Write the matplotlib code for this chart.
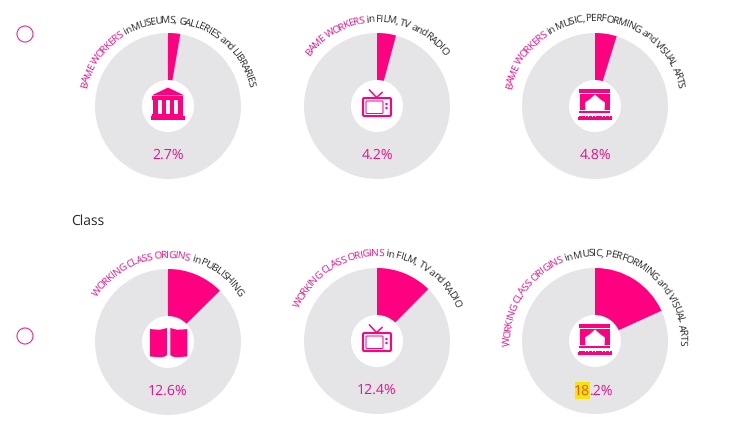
import matplotlib
matplotlib.use("Agg")
import matplotlib.pyplot as plt
import matplotlib.font_manager as fm
from matplotlib.patches import Wedge, Circle, Polygon, Rectangle, FancyBboxPatch
from matplotlib.ft2font import LoadFlags
import math

FONT = "Open Sans"
plt.rcParams["font.family"] = [FONT, "DejaVu Sans"]
plt.rcParams["text.hinting"] = "no_hinting"

# ---- data ----
values = [2.7, 4.2, 4.8, 12.6, 12.4, 18.2]
value_labels = ["2.7%", "4.2%", "4.8%", "12.6%", "12.4%", "18.2%"]
lead_texts = ["BAME WORKERS", "BAME WORKERS", "BAME WORKERS",
              "WORKING CLASS ORIGINS", "WORKING CLASS ORIGINS", "WORKING CLASS ORIGINS"]
sector_texts = [" in MUSEUMS, GALLERIES and LIBRARIES", " in FILM, TV and RADIO",
                " in MUSIC, PERFORMING and VISUAL ARTS", " in PUBLISHING",
                " in FILM, TV and RADIO", " in MUSIC, PERFORMING and VISUAL ARTS"]
icons = ["museum", "tv", "stage", "book", "tv", "stage"]
section_title = "Class"

# ---- layout ----
centers_x = [168, 377, 595, 168, 377, 595]
centers_y = [106, 106, 106, 342, 341, 341]
arc_radius = [83, 84, 85, 84, 85, 85]
arc_half_span = [77, 53, 78, 57, 67, 93]
R_OUT, R_IN = 73, 26
PINK, PINK_TXT, GREY, DARK = "#ff0080", "#e5128a", "#e5e5e7", "#262626"

fig = plt.figure(figsize=(7.48, 4.40), dpi=100)
ax = fig.add_axes([0, 0, 1, 1])
ax.set_xlim(0, 748)
ax.set_ylim(440, 0)
ax.axis("off")

font = fm.get_font(fm.findfont(fm.FontProperties(family=FONT)))
ARC_PT = 7.4
font.set_size(ARC_PT, 100)


def advance(ch):
    g = font.load_char(ord(ch), flags=LoadFlags.NO_HINTING)
    return g.linearHoriAdvance / 65536


def arc_text(cx, cy, r, half, lead, rest):
    s = lead + rest
    adv = [advance(c) for c in s]
    total = sum(adv)
    pos = 0
    for i, c in enumerate(s):
        mid = pos + adv[i] / 2
        pos += adv[i]
        if c == " ":
            continue
        a = math.radians(-half + 2 * half * mid / total)
        ax.text(cx + r * math.sin(a), cy - r * math.cos(a), c,
                rotation=-math.degrees(a), rotation_mode="anchor",
                ha="center", va="baseline", fontsize=ARC_PT,
                color=PINK_TXT if i < len(lead) else DARK)


def poly(cx, cy, pts, color=PINK):
    ax.add_patch(Polygon([(cx + x, cy + y) for x, y in pts], closed=True,
                         fc=color, ec="none", zorder=5))


def rect(cx, cy, x0, y0, x1, y1, color=PINK):
    poly(cx, cy, [(x0, y0), (x1, y0), (x1, y1), (x0, y1)], color)


def museum(cx, cy):
    poly(cx, cy, [(0, -18.5), (15.5, -11), (15.5, -10.5), (-15.5, -10.5), (-15.5, -11)])
    rect(cx, cy, -15.5, -10, 15.5, -5.5)
    for x0, x1 in [(-15, -10.3), (-6, -1.8), (1.8, 6), (10.3, 15)]:
        rect(cx, cy, x0, -5.5, x1, 8)
    rect(cx, cy, -15.5, 8, 15.5, 10)
    rect(cx, cy, -17, 10, 17, 14)


def tv(cx, cy):
    ax.add_patch(FancyBboxPatch((cx - 14, cy - 8), 28, 18,
                                boxstyle="round,pad=0,rounding_size=1.5",
                                fc="white", ec=PINK, lw=1.5, zorder=5))
    ax.add_patch(FancyBboxPatch((cx - 11, cy - 5), 17, 12.5,
                                boxstyle="round,pad=0,rounding_size=1",
                                fc="white", ec=PINK, lw=0.7, zorder=5))
    ax.plot([cx - 7.5, cx - 0.5, cx + 5], [cy - 16, cy - 8.5, cy - 13.5],
            color=PINK, lw=1.1, zorder=5)
    for dy in (-2, 2):
        ax.add_patch(Circle((cx + 9.5, cy + dy), 1.2, fc=PINK, ec="none", zorder=6))


def stage(cx, cy):
    rect(cx, cy, -16, -17, 15, -13)
    rect(cx, cy, -15.3, -11.5, 15.3, 4.5)
    poly(cx, cy, [(0, -11.5), (-5, -7), (-10, -3.5), (-9.5, 4.5),
                  (9.5, 4.5), (10, -3.5), (5, -7)], "white")
    rect(cx, cy, -16, 5.5, 15, 7.5)
    rect(cx, cy, -17, 11, 17, 14)
    for k in range(10):
        x = -16 + k * 3.4
        rect(cx, cy, x, 9.7, x + 2.6, 11)


def book(cx, cy):
    left = [(-18, -13), (-13, -12.5), (-8, -12.3), (-3, -13.5), (-1, -14),
            (-1, 13), (-3, 14.5), (-7, 15.3), (-12, 15), (-18, 14.5)]
    poly(cx, cy, left)
    poly(cx, cy, [(-x + 1.3, y) for x, y in left])


ICON = {"museum": museum, "tv": tv, "stage": stage, "book": book}

for i, v in enumerate(values):
    cx, cy = centers_x[i], centers_y[i]
    ax.add_patch(Wedge((cx, cy), R_OUT, 0, 360, width=R_OUT - R_IN, fc=GREY, ec="none"))
    ax.add_patch(Wedge((cx, cy), R_OUT, -90, -90 + 3.6 * v, width=R_OUT - R_IN,
                       fc=PINK, ec="none", zorder=3))
    ICON[icons[i]](cx, cy)
    arc_text(cx, cy, arc_radius[i], arc_half_span[i], lead_texts[i], sector_texts[i])
    if i < 5:
        ax.text(cx, cy + 49, value_labels[i], ha="center", va="center",
                fontsize=10.2, color=PINK_TXT, zorder=6)

# last label: highlighted first two digits
cx, cy = centers_x[5], centers_y[5]
ax.add_patch(Rectangle((575, 382), 15, 17, fc="#f7e600", ec="none", zorder=5))
ax.text(590, cy + 50, value_labels[5][:2], ha="right", va="center",
        fontsize=10.2, color="#f04e23", zorder=6)
ax.text(590, cy + 50, value_labels[5][2:], ha="left", va="center",
        fontsize=10.2, color=PINK_TXT, zorder=6)

ax.text(71, 221, section_title, ha="left", va="center", fontsize=10, color=DARK)

for y in (34, 336):
    ax.add_patch(Circle((25, y), 8, fc="white", ec=PINK_TXT, lw=0.7))

fig.savefig("out.png", dpi=100)
